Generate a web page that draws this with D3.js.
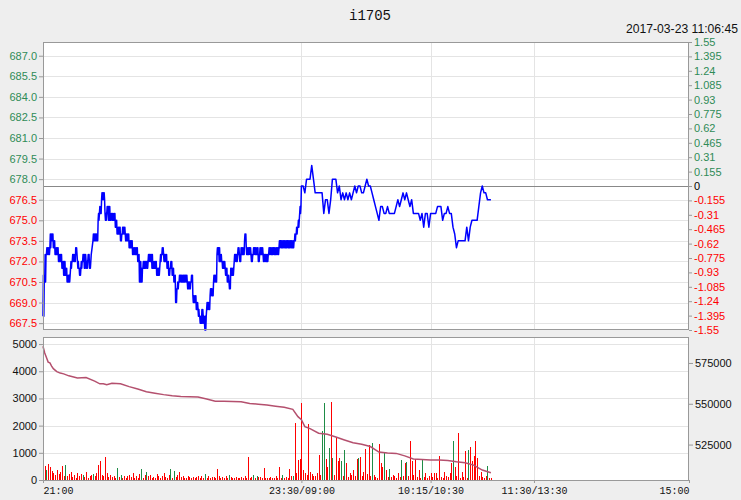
<!DOCTYPE html>
<html><head><meta charset="utf-8">
<script src="https://cdn.jsdelivr.net/npm/d3@7"></script>
<style>
html,body{margin:0;padding:0;background:#eeeeee;}
svg{display:block;}
</style></head><body>
<svg id="c" width="741" height="500"></svg>
<script>
// ---------------- data ----------------
const title = "i1705";
const timestamp = "2017-03-23 11:06:45";
const basePrice = 677.5;
const pctRange = 1.55;
const priceTicks = [687.0, 685.5, 684.0, 682.5, 681.0, 679.5, 678.0, 676.5, 675.0, 673.5, 672.0, 670.5, 669.0, 667.5];
const pctTicks = [1.55, 1.395, 1.24, 1.085, 0.93, 0.775, 0.62, 0.465, 0.31, 0.155, 0,
  -0.155, -0.31, -0.465, -0.62, -0.775, -0.93, -1.085, -1.24, -1.395, -1.55];
const volTicks = [0, 1000, 2000, 3000, 4000, 5000];
const volMax = 5260;
const oiTicks = [525000, 550000, 575000];
const oiDomain = [503300, 590900];
const timeLabels = ["21:00", "23:30/09:00", "10:15/10:30", "11:30/13:30", "15:00"];
const timeLabelMinutes = [0, 150, 225, 285, 375];
const sessionBreaks = [150, 225, 285];
const totalMinutes = 375;

// night session 21:00-23:30 : the two price levels traded in each minute (first, second)
const nightPrice = [
 [668.0,671.0],[670.5,672.5],[672.5,673.0],[673.0,672.5],[673.0,674.0],[673.5,674.0],[673.0,673.5],[672.5,673.0],[672.5,673.0],[672.0,672.5],
 [672.0,672.5],[671.5,672.0],[671.0,672.0],[671.0,671.5],[670.5,671.0],[670.5,671.0],[671.5,672.0],[672.0,672.5],[672.5,672.0],[673.0,672.5],
 [672.0,671.5],[671.5,671.0],[671.5,672.0],[672.0,672.5],[671.5,672.5],[672.0,671.5],[672.0,672.5],[671.5,672.0],[672.5,672.5],[673.5,674.0],
 [673.5,674.0],[674.0,673.5],[675.0,675.5],[676.0,675.5],[676.5,677.0],[677.0,676.5],[675.5,675.0],[675.5,676.0],[675.0,676.0],[675.0,675.5],
 [675.5,675.0],[675.0,675.5],[674.5,675.0],[674.0,674.5],[674.0,674.5],[673.5,674.0],[674.0,674.5],[674.5,674.0],[673.5,674.0],[673.5,674.0],
 [673.0,673.5],[673.0,673.5],[672.5,673.0],[673.0,672.5],[672.5,673.0],[672.0,672.5],[670.5,672.0],[670.5,671.5],[671.5,672.0],[671.5,672.0],
 [672.0,671.5],[672.0,672.5],[672.5,672.0],[672.5,671.5],[672.0,671.5],[671.5,672.0],[671.0,671.5],[671.0,671.5],[672.0,672.5],[672.5,673.0],
 [672.5,672.0],[672.0,672.5],[671.5,672.0],[671.0,671.5],[671.5,672.0],[671.0,671.5],[670.5,671.0],[669.0,670.0],[670.0,670.5],[670.5,671.0],
 [671.0,670.5],[670.5,671.0],[670.5,671.0],[671.0,670.5],[670.0,670.5],[670.0,670.5],[670.5,671.0],[669.5,669.0],[669.0,669.5],[668.5,669.0],
 [668.5,668.0],[668.0,667.5],[667.5,668.5],[668.0,667.5],[667.0,668.0],[668.5,669.0],[669.0,668.5],[669.5,670.0],[670.0,669.5],[670.5,671.0],
 [671.0,670.5],[672.5,673.0],[673.0,672.0],[672.5,672.0],[672.0,671.5],[672.0,671.5],[671.0,671.5],[670.5,671.0],[670.5,670.0],[671.5,671.0],
 [671.0,671.5],[672.0,672.5],[672.5,672.0],[672.5,673.0],[672.5,672.0],[673.0,672.5],[673.0,672.5],[673.5,674.0],[673.0,672.5],[672.5,673.0],
 [673.0,672.5],[672.0,672.5],[672.5,673.0],[673.0,672.5],[672.5,673.0],[672.0,672.5],[673.0,672.5],[673.0,672.5],[672.0,672.5],[672.5,672.0],
 [672.0,672.5],[672.5,673.0],[673.0,672.5],[672.5,673.0],[673.0,672.5],[672.5,673.0],[673.0,672.5],[673.0,673.5],[673.5,673.0],[673.0,673.5],
 [673.5,673.0],[673.0,673.5],[673.5,673.0],[673.0,673.5],[673.5,673.0],[673.0,673.5],[673.5,674.0],[674.0,674.5],[674.5,675.0],[675.5,676.0]
];
// day session from 09:00 : one price per minute
const dayPrice = [
 677.5,677.5,677.0,678.0,678.0,678.0,679.0,678.0,677.0,677.0,
 677.0,677.0,677.0,675.5,676.5,676.5,675.5,676.5,678.0,678.0,
 678.0,677.0,677.5,676.5,677.0,676.5,677.0,676.5,677.0,676.5,
 677.0,677.5,677.0,677.5,677.5,677.0,677.0,677.5,678.0,677.5,
 677.5,677.0,676.5,676.0,675.5,675.0,676.0,676.0,675.5,675.5,
 676.0,675.5,675.5,675.5,675.5,676.0,676.5,676.0,676.5,677.0,
 676.5,677.0,676.5,676.0,676.5,675.5,675.5,675.5,675.5,675.0,
 675.5,674.5,675.5,675.5,674.5,675.5,675.5,675.5,675.5,676.0,
 676.0,676.0,675.0,675.5,675.5,676.0,675.5,675.5,674.5,674.0,
 673.0,673.5,673.5,673.5,673.5,673.5,674.5,673.5,674.5,675.0,
 675.0,675.0,675.0,676.0,677.0,677.5,677.0,677.0,676.5,676.5,
 676.5
];
// volume per minute (all sessions, in order)
const volume = [
 440,520,380,600,470,330,260,180,380,230,
 300,520,160,560,140,220,310,120,180,90,
 250,130,210,170,120,300,80,140,190,230,
 160,270,550,700,180,140,860,260,120,190,
 110,150,80,430,120,200,90,160,70,130,
 180,100,260,90,140,60,210,400,80,170,
 300,140,190,80,120,60,220,150,90,130,
 260,110,70,180,400,90,340,100,200,310,
 120,160,90,70,140,100,60,120,80,110,
 150,90,130,70,210,60,140,80,100,120,
 70,390,130,60,110,80,140,90,170,100,
 60,80,120,90,60,100,70,130,80,860,
 90,110,200,80,160,100,120,70,450,80,
 60,80,110,70,90,130,60,490,70,200,
 90,120,80,400,160,140,2110,250,720,760,
 2830,380,260,180,2060,300,220,160,140,250,
 920,200,1800,2850,770,490,1170,2870,800,180,
 1560,710,800,700,150,1100,640,120,250,200,
 370,140,760,800,830,160,310,1140,220,1290,
 140,1350,180,120,90,1330,610,490,1000,370,
 120,390,100,180,140,90,250,110,740,160,
 640,680,130,1440,710,200,760,120,370,90,
 740,110,250,80,130,270,100,270,270,90,
 880,120,80,310,130,100,270,640,1440,490,
 150,1740,90,300,120,1080,80,1100,1200,700,
 880,1440,800,130,310,110,90,140,520,60,
 80
];
// minutes whose volume bar is green (price fell)
const greenBars = [2,13,23,29,43,45,57,60,74,76,94,108,122,124,139,145,
  162,163,166,168,173,175,183,191,198,201,208,211,220,238,247,258];
// open interest samples (minute index, value)
const oiMinute = [0,1,2,3,4,5,6,8,10,12,15,20,25,30,33,35,37,40,45,50,55,60,65,70,75,80,85,90,95,100,
  105,110,115,120,125,130,135,140,145,148,150,152,155,160,165,170,175,180,185,190,195,200,205,210,215,
  220,225,230,235,240,245,250,255,260];
const oiValue = [585200,581100,578300,575500,575100,573100,571500,569700,568800,568300,567100,565800,566100,
  563900,562200,562300,561700,562600,562300,560500,559000,557400,556500,555600,554900,554500,554300,554100,
  552900,551600,551500,551400,551300,550200,549700,549200,548500,547800,546600,542100,540300,536000,534800,
  532000,531300,529600,527800,526100,525200,523800,520400,519900,519600,518100,516200,515900,515600,515500,
  515300,514500,513900,512400,509400,507700];

// ---------------- layout ----------------
const L = 43, R = 689;
const T1 = 42, B1 = 330;
const T2 = 337, B2 = 480;
const UP = "#2e8b57", DOWN = "#ff0000";
const GRID = "#e4e4e4", FRAME = "#999999";
const FONT = "'Liberation Sans', Arial, sans-serif";
const MONO = "'Liberation Mono', 'DejaVu Sans Mono', monospace";

const svg = d3.select("#c");
const x = d3.scaleLinear().domain([0, totalMinutes]).range([L, R]);
const yP = d3.scaleLinear().domain([basePrice * (1 - pctRange / 100), basePrice * (1 + pctRange / 100)]).range([B1, T1]);
const yPct = d3.scaleLinear().domain([-pctRange, pctRange]).range([B1, T1]);
const yV = d3.scaleLinear().domain([0, volMax]).range([B2, T2]);
const yOI = d3.scaleLinear().domain(oiDomain).range([B2, T2]);
const px = v => Math.round(v) + 0.5;

// plot backgrounds
svg.append("rect").attr("x", L).attr("y", T1).attr("width", R - L).attr("height", B1 - T1).attr("fill", "#fff");
svg.append("rect").attr("x", L).attr("y", T2).attr("width", R - L).attr("height", B2 - T2).attr("fill", "#fff");

// grid lines
const g = svg.append("g").attr("stroke", GRID).attr("stroke-width", 1);
priceTicks.forEach(p => g.append("line").attr("x1", L).attr("x2", R).attr("y1", px(yP(p))).attr("y2", px(yP(p))));
volTicks.filter(v => v > 0).forEach(v => g.append("line").attr("x1", L).attr("x2", R).attr("y1", px(yV(v))).attr("y2", px(yV(v))));
sessionBreaks.forEach(m => {
  g.append("line").attr("x1", px(x(m))).attr("x2", px(x(m))).attr("y1", T1).attr("y2", B1);
  g.append("line").attr("x1", px(x(m))).attr("x2", px(x(m))).attr("y1", T2).attr("y2", B2);
});

// zero (previous settle) line
svg.append("line").attr("x1", L).attr("x2", R).attr("y1", px(yPct(0))).attr("y2", px(yPct(0)))
  .attr("stroke", "#888").attr("stroke-width", 1);

// volume bars
svg.append("g").attr("shape-rendering", "crispEdges").selectAll("rect").data(volume).join("rect")
  .attr("x", (v, i) => Math.round(x(i)))
  .attr("width", 1)
  .attr("y", v => yV(v))
  .attr("height", v => B2 - yV(v))
  .attr("fill", (v, i) => greenBars.includes(i) ? "#1e8c46" : "#ff0000");

// open interest line
const oiPts = oiMinute.map((m, i) => [x(m), yOI(oiValue[i])]);
svg.append("path").attr("d", d3.line()(oiPts)).attr("fill", "none").attr("stroke", "#b4506e").attr("stroke-width", 1.5);

// price line: in the night session the price swings between the two levels of each minute
const pricePts = [];
nightPrice.forEach((pair, i) => {
  const [a, b] = pair;
  if (a === b) { pricePts.push([x(i), yP(a)]); return; }
  [0, 0.25, 0.5, 0.75].forEach((f, k) => pricePts.push([x(i + f), yP(k % 2 ? b : a)]));
});
dayPrice.forEach((p, i) => pricePts.push([x(nightPrice.length + i), yP(p)]));
svg.append("path").attr("d", d3.line()(pricePts)).attr("fill", "none").attr("stroke", "#0000ff")
  .attr("stroke-width", 1.5).attr("stroke-linejoin", "round");

// frames
svg.append("rect").attr("x", L + 0.5).attr("y", T1 + 0.5).attr("width", R - L - 1).attr("height", B1 - T1 - 1)
  .attr("fill", "none").attr("stroke", FRAME);
svg.append("rect").attr("x", L + 0.5).attr("y", T2 + 0.5).attr("width", R - L - 1).attr("height", B2 - T2)
  .attr("fill", "none").attr("stroke", FRAME);

function styleAxis(sel) {
  sel.select(".domain").remove();
  sel.selectAll(".tick line").attr("stroke", FRAME);
  sel.selectAll("text").attr("font-family", FONT).attr("font-size", 11);
}
// left price axis
svg.append("g").attr("transform", `translate(${L},0)`)
  .call(d3.axisLeft(yP).tickValues(priceTicks).tickFormat(d3.format(".1f")).tickSize(4).tickPadding(2))
  .call(styleAxis)
  .call(s => s.selectAll("text").attr("fill", d => d > basePrice ? UP : DOWN));
// right pct axis
svg.append("g").attr("transform", `translate(${R},0)`)
  .call(d3.axisRight(yPct).tickValues(pctTicks).tickFormat(d => String(d)).tickSize(3).tickPadding(2))
  .call(styleAxis)
  .call(s => s.selectAll("text").attr("fill", d => d > 0 ? UP : (d < 0 ? DOWN : "#000")));
// volume axis
svg.append("g").attr("transform", `translate(${L},0)`)
  .call(d3.axisLeft(yV).tickValues(volTicks).tickFormat(d3.format("d")).tickSize(4).tickPadding(2))
  .call(styleAxis)
  .call(s => s.selectAll("text").attr("fill", "#111"));
// open interest axis
svg.append("g").attr("transform", `translate(${R},0)`)
  .call(d3.axisRight(yOI).tickValues(oiTicks).tickFormat(d3.format("d")).tickSize(4).tickPadding(2))
  .call(styleAxis)
  .call(s => s.selectAll("text").attr("fill", "#111"));
// time axis
const tAxis = svg.append("g").attr("transform", `translate(0,${B2})`)
  .call(d3.axisBottom(x).tickValues(timeLabelMinutes).tickFormat((d, i) => timeLabels[i]).tickSize(3).tickPadding(4));
tAxis.select(".domain").remove();
tAxis.selectAll(".tick line").attr("stroke", FRAME);
tAxis.selectAll("text").attr("font-family", MONO).attr("font-size", 10).attr("fill", "#111")
  .attr("text-anchor", (d, i) => i === 0 ? "start" : (i === timeLabels.length - 1 ? "end" : "middle"));

// title and timestamp
svg.append("text").attr("x", 370).attr("y", 20).attr("text-anchor", "middle")
  .attr("font-family", MONO).attr("font-size", 14).attr("fill", "#111").text(title);
svg.append("text").attr("x", 738).attr("y", 33).attr("text-anchor", "end")
  .attr("font-family", FONT).attr("font-size", 12).attr("fill", "#111")
  .attr("textLength", 112).attr("lengthAdjust", "spacingAndGlyphs").text(timestamp);
</script>
</body></html>
